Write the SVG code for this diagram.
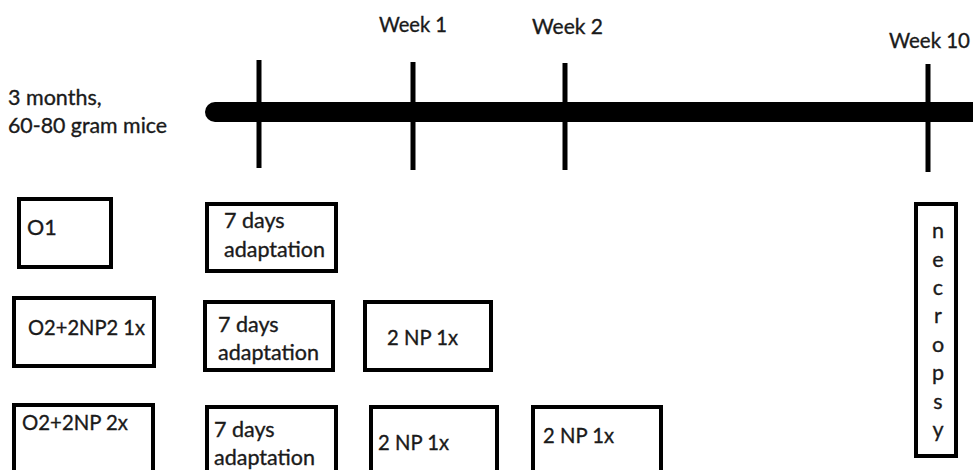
<svg xmlns="http://www.w3.org/2000/svg" width="973" height="470" viewBox="0 0 973 470">
<style>
text{font-family:Lato,"Open Sans","Liberation Sans",sans-serif;font-size:21.5px;fill:#1a1a1a;stroke:#1a1a1a;stroke-width:0.35}
.wk{font-size:20.5px}
.box{fill:#fff;stroke:#000;stroke-width:4}
.tick{stroke:#000;stroke-width:5}
</style>
<rect width="973" height="470" fill="#fff"/>
<g id="timeline">
<path d="M215 102 H973 V122 H215 A10 10 0 0 1 215 102 Z" fill="#000"/>
<line class="tick" x1="259" y1="60" x2="259" y2="168"/>
<line class="tick" x1="413" y1="62" x2="413" y2="170"/>
<line class="tick" x1="565" y1="63" x2="565" y2="170"/>
<line class="tick" x1="928" y1="64" x2="928" y2="172"/>
<text class="wk" x="379" y="32" textLength="68" lengthAdjust="spacingAndGlyphs">Week 1</text>
<text class="wk" x="532" y="34" textLength="71" lengthAdjust="spacingAndGlyphs">Week 2</text>
<text class="wk" x="889" y="48" textLength="81" lengthAdjust="spacingAndGlyphs">Week 10</text>
<text x="8" y="105">3 months,</text>
<text x="8" y="133" textLength="159" lengthAdjust="spacingAndGlyphs">60-80 gram mice</text>
</g>
<g id="o1"><rect class="box" x="19" y="199" width="92" height="68"/><text x="27" y="235">O1</text></g>
<g id="adapt1"><rect class="box" x="207" y="204" width="129" height="67"/><text x="224" y="228">7 days</text><text x="224" y="257">adaptation</text></g>
<g id="o2np1"><rect class="box" x="14" y="298" width="140" height="68"/><text x="28" y="335" textLength="117" lengthAdjust="spacingAndGlyphs">O2+2NP2 1x</text></g>
<g id="adapt2"><rect class="box" x="205" y="302" width="128" height="68"/><text x="218" y="332">7 days</text><text x="218" y="360">adaptation</text></g>
<g id="np1a"><rect class="box" x="365" y="302" width="126" height="68"/><text x="387" y="345" textLength="71" lengthAdjust="spacingAndGlyphs">2 NP 1x</text></g>
<g id="o2np2"><rect class="box" x="14" y="405" width="139" height="75"/><text x="22" y="430" textLength="106" lengthAdjust="spacingAndGlyphs">O2+2NP 2x</text></g>
<g id="adapt3"><rect class="box" x="207" y="407" width="129" height="75"/><text x="214" y="437">7 days</text><text x="214" y="465">adaptation</text></g>
<g id="np2a"><rect class="box" x="371" y="407" width="126" height="75"/><text x="378" y="450" textLength="71" lengthAdjust="spacingAndGlyphs">2 NP 1x</text></g>
<g id="np2b"><rect class="box" x="533" y="407" width="128" height="75"/><text x="543" y="443" textLength="71" lengthAdjust="spacingAndGlyphs">2 NP 1x</text></g>
<g id="necropsy"><rect class="box" x="916" y="204" width="40" height="252"/>
<text x="938" text-anchor="middle"><tspan x="938" y="238">n</tspan><tspan x="938" y="267">e</tspan><tspan x="938" y="295">c</tspan><tspan x="938" y="323">r</tspan><tspan x="938" y="352">o</tspan><tspan x="938" y="380">p</tspan><tspan x="938" y="409">s</tspan><tspan x="938" y="437">y</tspan></text></g>
<g id="connectors"></g>
</svg>
